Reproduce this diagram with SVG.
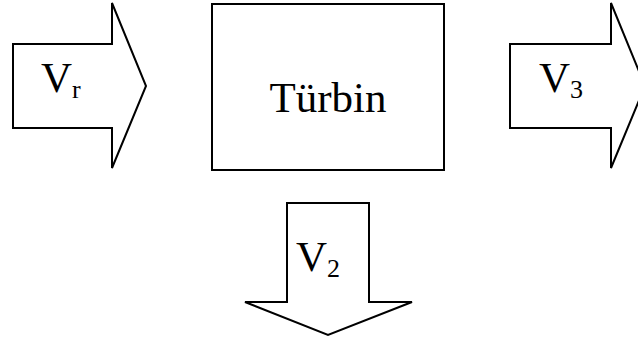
<svg xmlns="http://www.w3.org/2000/svg" width="638" height="343" viewBox="0 0 638 343">
<style>
.shape{fill:#fff;stroke:#000;stroke-width:2;stroke-linejoin:miter}
.t{font-family:"Liberation Serif","Times New Roman",serif;fill:#000}
.big{font-size:43px}
.sub{font-size:26px}
</style>
<rect width="638" height="343" fill="#fff"/>
<g id="connectors"></g>
<g id="arrow-vr">
<polygon class="shape" points="13,44 112,44 112,3 146,86 112,168 112,128 13,128"/>
<text class="t" x="41" y="92"><tspan class="big">V</tspan><tspan class="sub" dy="6">r</tspan></text>
</g>
<g id="turbin">
<rect class="shape" x="212" y="4" width="232" height="166"/>
<text class="t big" x="328" y="112" text-anchor="middle">Türbin</text>
</g>
<g id="arrow-v3">
<polygon class="shape" points="510,44 611,44 611,3 645,86 611,168 611,128 510,128"/>
<text class="t" x="539" y="92"><tspan class="big">V</tspan><tspan class="sub" dy="6">3</tspan></text>
</g>
<g id="arrow-v2">
<polygon class="shape" points="287,203 369,203 369,302 412,302 328,335 245,302 287,302"/>
<text class="t" x="296" y="271"><tspan class="big">V</tspan><tspan class="sub" dy="6">2</tspan></text>
</g>
</svg>
